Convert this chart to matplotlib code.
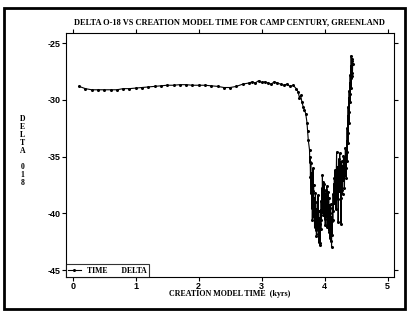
import numpy as np
import matplotlib.pyplot as plt
from matplotlib.patches import Rectangle

plt.rcParams['font.family'] = 'Liberation Serif'

# creation model time (kyrs) and delta O-18
time = [0.10, 0.20, 0.30, 0.40, 0.50, 0.60, 0.70, 0.80, 0.90, 1.00,
        1.10, 1.20, 1.30, 1.40, 1.50, 1.60, 1.70, 1.80, 1.90, 2.00,
        2.10, 2.20, 2.30, 2.40, 2.50, 2.60, 2.70, 2.80, 2.85, 2.90,
        2.95, 3.00, 3.05, 3.10, 3.15, 3.20, 3.25, 3.30, 3.35, 3.40,
        3.45, 3.50, 3.55, 3.58, 3.60, 3.62, 3.64, 3.66, 3.68, 3.70,
        3.72, 3.73, 3.74,
        3.760, 3.765, 3.770, 3.775, 3.780, 3.785, 3.790, 3.795, 3.800, 3.805,
        3.810, 3.815, 3.820, 3.825, 3.830, 3.835, 3.840, 3.845, 3.850, 3.855,
        3.860, 3.865, 3.870, 3.875, 3.880, 3.885, 3.890, 3.895, 3.900, 3.905,
        3.910, 3.915, 3.920, 3.925, 3.930, 3.935, 3.940, 3.945, 3.950, 3.955,
        3.960, 3.965, 3.970, 3.975, 3.980, 3.985, 3.990, 3.995, 4.000, 4.005,
        4.010, 4.015, 4.020, 4.025, 4.030, 4.035, 4.040, 4.045, 4.050, 4.055,
        4.060, 4.065, 4.070, 4.075, 4.080, 4.085, 4.090, 4.095, 4.100, 4.105,
        4.110, 4.115, 4.120, 4.125, 4.130, 4.135, 4.140, 4.145, 4.150, 4.155,
        4.160, 4.165, 4.170, 4.175, 4.180, 4.185, 4.190, 4.195, 4.200, 4.205,
        4.210, 4.215, 4.220, 4.225, 4.230, 4.235, 4.240, 4.245, 4.250, 4.255,
        4.260, 4.265, 4.270, 4.275, 4.280, 4.285, 4.290, 4.295, 4.300, 4.305,
        4.310, 4.315, 4.320, 4.325, 4.330, 4.335, 4.340, 4.345, 4.350, 4.354,
        4.358, 4.362, 4.366, 4.370, 4.374, 4.378, 4.382, 4.386, 4.390, 4.394,
        4.398, 4.402, 4.406, 4.410, 4.414, 4.418, 4.422, 4.426, 4.430, 4.434,
        4.438, 4.442, 4.446]
delta = [-28.8, -29.0, -29.1, -29.1, -29.1, -29.1, -29.1, -29.0, -29.0, -28.95,
         -28.9, -28.85, -28.8, -28.75, -28.7, -28.7, -28.65, -28.65, -28.7, -28.7,
         -28.7, -28.75, -28.8, -28.9, -28.9, -28.8, -28.6, -28.5, -28.4, -28.5,
         -28.3, -28.45, -28.4, -28.5, -28.6, -28.4, -28.5, -28.6, -28.7, -28.6,
         -28.8, -28.7, -29.0, -29.3, -29.8, -29.6, -30.2, -30.6, -30.9, -31.2,
         -32.0, -32.7, -33.5,
         -34.4, -35.5, -35.0, -36.8, -35.6, -38.2, -36.4, -39.5, -37.0, -40.6,
         -38.0, -36.0, -39.2, -37.5, -40.3, -38.6, -41.2, -39.0, -40.8, -38.2,
         -41.5, -39.6, -42.0, -40.1, -41.3, -39.0, -40.7, -38.4, -41.8, -39.8,
         -42.5, -40.4, -42.8, -40.9, -42.6, -39.7, -41.4, -38.9, -40.6, -37.8,
         -39.9, -36.6, -38.8, -37.2, -40.1, -38.0, -39.6, -37.4, -40.5, -38.3,
         -41.0, -39.1, -40.2, -37.9, -39.7, -37.6, -41.2, -39.4, -40.8, -38.1,
         -40.0, -38.6, -41.6, -39.3, -42.2, -40.0, -41.4, -39.2, -42.4, -40.3,
         -43.0, -40.7, -41.9, -39.5, -40.6, -38.3, -39.8, -37.4, -39.1, -36.9,
         -38.4, -36.2, -38.9, -37.0, -39.6, -36.5, -34.6, -37.8, -35.9, -38.7,
         -36.3, -40.8, -37.5, -35.2, -38.0, -36.1, -34.7, -37.3, -35.5, -38.6,
         -40.9, -37.0, -35.4, -37.9, -36.0, -38.3, -35.8, -37.1, -34.9, -36.5,
         -35.2, -37.8, -35.0, -36.6, -34.2, -36.0, -34.8, -36.9, -33.6, -35.4,
         -32.5, -34.6, -31.4, -33.8, -30.6, -32.9, -29.8, -32.0, -29.2, -31.1,
         -28.5, -30.2, -27.8, -29.5, -27.0, -28.9, -26.1, -28.1, -26.6, -27.9,
         -26.4, -27.6, -26.8]

fig = plt.figure(figsize=(4.09, 3.15), dpi=100)
ax = fig.add_axes([0.161, 0.121, 0.802, 0.774])

ax.plot(time, delta, color='black', lw=0.8, marker='o', ms=1.2, label='TIME       DELTA')

ax.set_xlim(-0.11, 5.1)
ax.set_ylim(-45.6, -24.1)
ax.set_xticks([0, 1, 2, 3, 4, 5])
ax.set_xticklabels(['0', '1', '2', '3', '4', '5'], fontsize=6.5, fontweight='bold', family='Liberation Sans')
ax.set_yticks([-25, -30, -35, -40, -45])
ax.set_yticklabels(['-25', '-30', '-35', '-40', '-45'], fontsize=6.5, fontweight='bold', family='Liberation Sans')
ax.tick_params(direction='out', length=3, width=0.8, pad=1,
               top=True, right=True)
for s in ax.spines.values():
    s.set_linewidth(0.8)

ax.set_title('DELTA O-18 VS CREATION MODEL TIME FOR CAMP CENTURY, GREENLAND',
             fontsize=6, fontweight='bold', pad=6)
ax.set_xlabel('CREATION MODEL TIME  (kyrs)', fontsize=5.8, fontweight='bold', labelpad=-1)

# stacked y label
fig.text(0.055, 0.52, '\n'.join('DELTA') + '\n\n' + '\n'.join('018'),
         fontsize=5.6, fontweight='bold', ha='center', va='center', linespacing=1.0)

leg = ax.legend(loc='lower left', borderaxespad=0, fancybox=False,
                handlelength=1.6, handletextpad=0.8, borderpad=0.3,
                prop={'weight': 'bold', 'size': 5.6})
leg.get_frame().set_edgecolor('black')
leg.get_frame().set_linewidth(0.8)

fig.patches.append(Rectangle((0.01, 0.02), 0.98, 0.955, transform=fig.transFigure,
                             fill=False, edgecolor='black', lw=2))

plt.savefig('out.png')
